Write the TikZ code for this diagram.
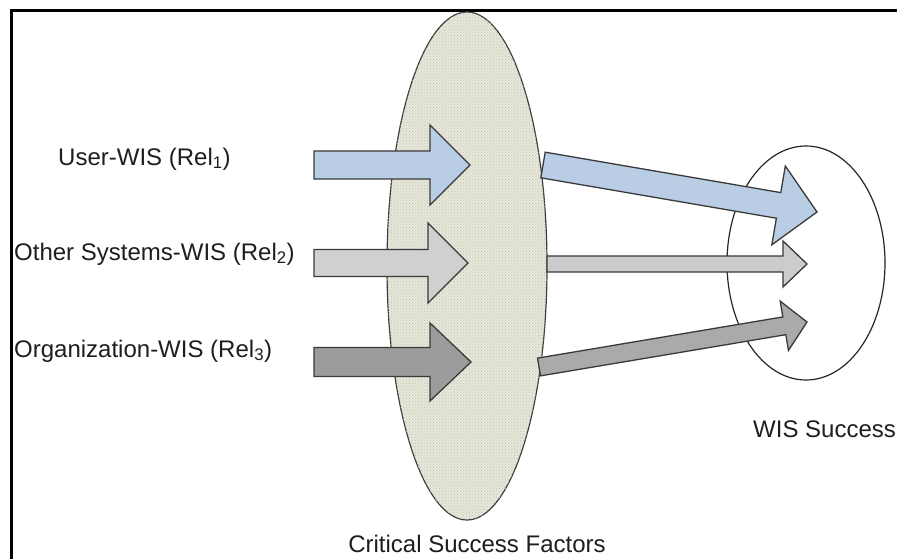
\documentclass[tikz,border=0pt]{standalone}
\usepackage{fontspec}
\setmainfont{Liberation Sans}
\usetikzlibrary{calc,patterns,shapes.geometric}

\definecolor{relblue}{HTML}{B9CDE5}
\definecolor{rellight}{HTML}{D0D0D0}
\definecolor{reldark}{HTML}{9C9C9C}
\definecolor{outmid}{HTML}{CCCCCC}
\definecolor{outlow}{HTML}{AAAAAA}
\definecolor{csffill}{HTML}{E8E8D8}
\definecolor{edge}{HTML}{3A3A3A}
\definecolor{ink}{HTML}{1E1E1E}

% block arrow: #1 style, #2 tail coordinate, #3 tip coordinate,
% #4 shaft half-width, #5 head half-width, #6 head length
\newcommand{\blockarrow}[6]{%
  \coordinate (#2-base) at ($(#3)!#6!(#2)$);
  \draw[#1] ($(#2)!#4!90:(#3)$) -- ($(#2-base)!#4!90:(#3)$)
    -- ($(#2-base)!#5!90:(#3)$) -- (#3)
    -- ($(#2-base)!#5!-90:(#3)$) -- ($(#2-base)!#4!-90:(#3)$)
    -- ($(#2)!#4!-90:(#3)$) -- cycle;
}

\begin{document}
\begin{tikzpicture}[x=1pt,y=-1pt,
  lbl/.style={inner sep=0pt, text=ink, font=\fontsize{24}{28}\selectfont},
  csf/.style={ellipse, draw=edge, line width=1.2pt, fill=csffill,
    postaction={pattern=crosshatch dots, pattern color=black!25},
    minimum width=160pt, minimum height=508pt, inner sep=0pt},
  wis/.style={ellipse, draw=black!85, line width=1.2pt, fill=white,
    minimum width=158pt, minimum height=234pt, inner sep=0pt},
  barrow/.style={draw=edge, line width=1.3pt, line join=miter}
]
\useasboundingbox (0,0) rectangle (897,559);
\fill[white] (0,0) rectangle (897,559);

% outer frame (continues past the right and bottom edges)
\draw[line width=3pt, black] (11,600) -- (11,11) -- (940,11);

% the two groupings
\node[csf] (csf) at (467,266) {};
\node[wis] (wis) at (806,263) {};

% labels
\node[lbl, anchor=base west] (l1) at (58,165) {User-WIS (Rel\textsubscript{1})};
\node[lbl, anchor=base west] (l2) at (14,260) {Other Systems-WIS (Rel\textsubscript{2})};
\node[lbl, anchor=base west] (l3) at (14,357) {Organization-WIS (Rel\textsubscript{3})};
\node[lbl, anchor=base] (lcsf) at (477,552) {Critical Success Factors};
\node[lbl, anchor=base west] (lwis) at (753,437) {WIS Success};

% incoming relationship arrows
\coordinate (a1) at (314,165); \coordinate (b1) at (470,165);
\coordinate (a2) at (314,263); \coordinate (b2) at (468,263);
\coordinate (a3) at (314,362); \coordinate (b3) at (471,362);
\blockarrow{barrow, fill=relblue}{a1}{b1}{14pt}{40pt}{40pt}
\blockarrow{barrow, fill=rellight}{a2}{b2}{13.5pt}{40pt}{40pt}
\blockarrow{barrow, fill=reldark}{a3}{b3}{14.5pt}{39pt}{41pt}

% outgoing arrows towards WIS success
\coordinate (c1) at (543,165); \coordinate (d1) at (817,212);
\coordinate (c2) at (547,264); \coordinate (d2) at (807,264);
\coordinate (c3) at (539,367); \coordinate (d3) at (807,322);
\blockarrow{barrow, fill=outmid}{c2}{d2}{8pt}{23pt}{24pt}
\blockarrow{barrow, fill=outlow}{c3}{d3}{9pt}{25pt}{23pt}
\blockarrow{barrow, fill=relblue}{c1}{d1}{13pt}{40pt}{39pt}
\end{tikzpicture}
\end{document}
